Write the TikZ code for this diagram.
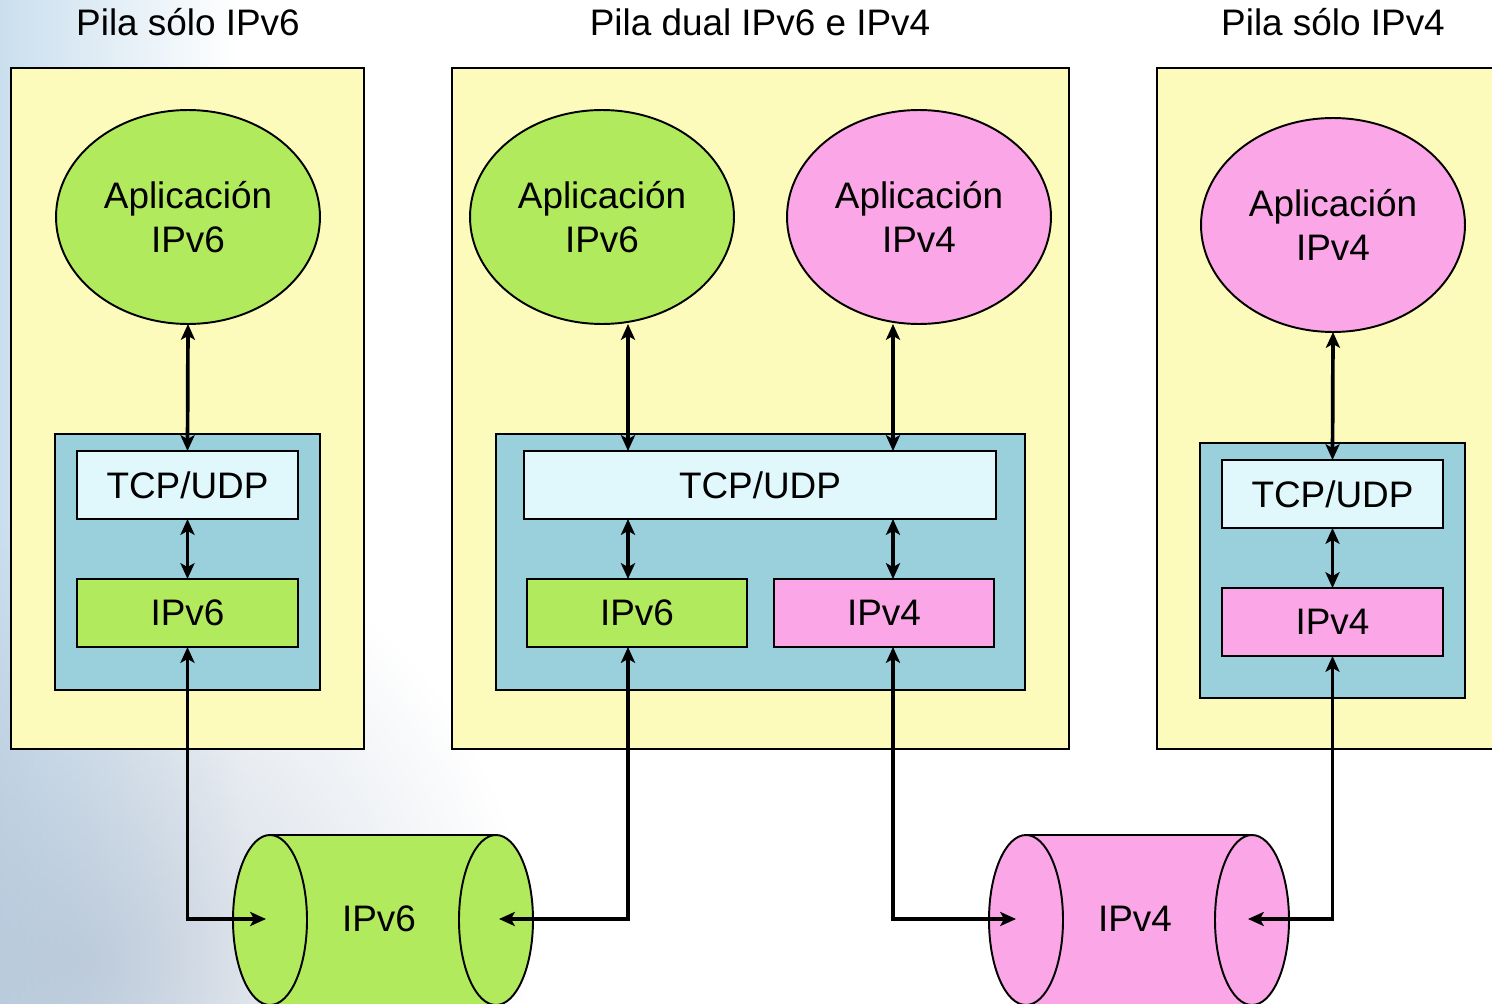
\documentclass[tikz,border=0pt]{standalone}
\usepackage{fontspec}
\setmainfont{Liberation Sans}
\usetikzlibrary{shapes.geometric,arrows.meta,fadings}
\definecolor{yel}{HTML}{FCFBBC}
\definecolor{grn}{HTML}{B2EA5E}
\definecolor{pnk}{HTML}{FBA6E6}
\definecolor{blu}{HTML}{99D0DC}
\definecolor{pale}{HTML}{E0F8FC}
\definecolor{bgA}{HTML}{CADFEE}
\definecolor{bgB}{HTML}{A7B6CA}
\tikzfading[name=softc, inner color=transparent!0, outer color=transparent!100]
\tikzset{
  border/.style={draw=black, line width=1.1pt, inner sep=0pt, outer sep=0pt},
  stackbox/.style={border, fill=yel, rectangle},
  layerbox/.style={border, fill=blu, rectangle},
  protobox/.style={border, rectangle, minimum height=1.36cm, font=\fontsize{21}{26}\selectfont},
  appell/.style={border, ellipse, minimum width=5.28cm, minimum height=4.28cm, align=center, font=\fontsize{21}{25}\selectfont},
  title/.style={font=\fontsize{21}{24}\selectfont, inner sep=0pt},
  conn/.style={line width=2.1pt, {Stealth[length=9pt,width=8pt,inset=2.2pt]}-{Stealth[length=9pt,width=8pt,inset=2.2pt]}},
  cyl/.style={line width=1.1pt, draw=black},
  cyllabel/.style={font=\fontsize{21}{25}\selectfont, inner sep=0pt}
}
\begin{document}
\begin{tikzpicture}[x=0.02cm,y=-0.02cm]
\useasboundingbox (0,0) rectangle (1492,1004);
\clip (0,0) rectangle (1492,1004);
% background
\shade[left color=bgA, right color=white] (0,0) rectangle (240,1004);
\fill[bgB, path fading=softc, opacity=0.6] (90,960) circle (440);

% titles
\node[title] (t1) at (188,22) {Pila sólo IPv6};
\node[title] (t2) at (760,22) {Pila dual IPv6 e IPv4};
\node[title] (t3) at (1333,22) {Pila sólo IPv4};

% stacks
\node[stackbox, minimum width=7.06cm, minimum height=13.62cm] (s1) at (187.5,408.5) {};
\node[stackbox, minimum width=12.34cm, minimum height=13.62cm] (s2) at (760.5,408.5) {};
\node[stackbox, minimum width=6.86cm, minimum height=13.62cm] (s3) at (1328.5,408.5) {};

% applications
\node[appell, fill=grn] (a1) at (188,217) {Aplicación\\IPv6};
\node[appell, fill=grn] (a2) at (602,217) {Aplicación\\IPv6};
\node[appell, fill=pnk] (a3) at (919,217) {Aplicación\\IPv4};
\node[appell, fill=pnk] (a4) at (1333,225) {Aplicación\\IPv4};

% layer boxes
\node[layerbox, minimum width=5.3cm, minimum height=5.12cm] (l1) at (187.5,562) {};
\node[layerbox, minimum width=10.58cm, minimum height=5.12cm] (l2) at (760.5,562) {};
\node[layerbox, minimum width=5.3cm, minimum height=5.1cm] (l3) at (1332.5,570.5) {};

% TCP/UDP
\node[protobox, fill=pale, minimum width=4.42cm] (u1) at (187.5,485) {TCP/UDP};
\node[protobox, fill=pale, minimum width=9.44cm] (u2) at (760,485) {TCP/UDP};
\node[protobox, fill=pale, minimum width=4.42cm] (u3) at (1332.5,494) {TCP/UDP};

% IP layers
\node[protobox, fill=grn, minimum width=4.42cm] (p1) at (187.5,613) {IPv6};
\node[protobox, fill=grn, minimum width=4.4cm] (p2) at (637,613) {IPv6};
\node[protobox, fill=pnk, minimum width=4.4cm] (p3) at (884,613) {IPv4};
\node[protobox, fill=pnk, minimum width=4.42cm] (p4) at (1332.5,622) {IPv4};

% cylinders
\fill[grn] (270,835) rectangle (496,1010);
\draw[cyl] (270,835) -- (496,835);
\draw[cyl, fill=grn] (270,920) ellipse [x radius=37, y radius=85];
\draw[cyl, fill=grn] (496,920) ellipse [x radius=37, y radius=85];
\node[cyllabel] (c6) at (379,919) {IPv6};

\fill[pnk] (1026,835) rectangle (1252,1010);
\draw[cyl] (1026,835) -- (1252,835);
\draw[cyl, fill=pnk] (1026,920) ellipse [x radius=37, y radius=85];
\draw[cyl, fill=pnk] (1252,920) ellipse [x radius=37, y radius=85];
\node[cyllabel] (c4) at (1135,919) {IPv4};

\coordinate (c6l) at (266,919);
\coordinate (c6r) at (499,919);
\coordinate (c4l) at (1016,919);
\coordinate (c4r) at (1248,919);
\coordinate (m6) at (628,0);
\coordinate (m4) at (893,0);

% connectors
\draw[conn] (a1.south) -- (u1.north);
\draw[conn] (u1.south) -- (p1.north);
\draw[conn] (p1.south) |- (c6l);

\draw[conn] (a2.south -| m6) -- (u2.north -| m6);
\draw[conn] (u2.south -| m6) -- (p2.north -| m6);
\draw[conn] (p2.south -| m6) |- (c6r);

\draw[conn] (a3.south -| m4) -- (u2.north -| m4);
\draw[conn] (u2.south -| m4) -- (p3.north -| m4);
\draw[conn] (p3.south -| m4) |- (c4l);

\draw[conn] (a4.south) -- (u3.north);
\draw[conn] (u3.south) -- (p4.north);
\draw[conn] (p4.south) |- (c4r);
\end{tikzpicture}
\end{document}
